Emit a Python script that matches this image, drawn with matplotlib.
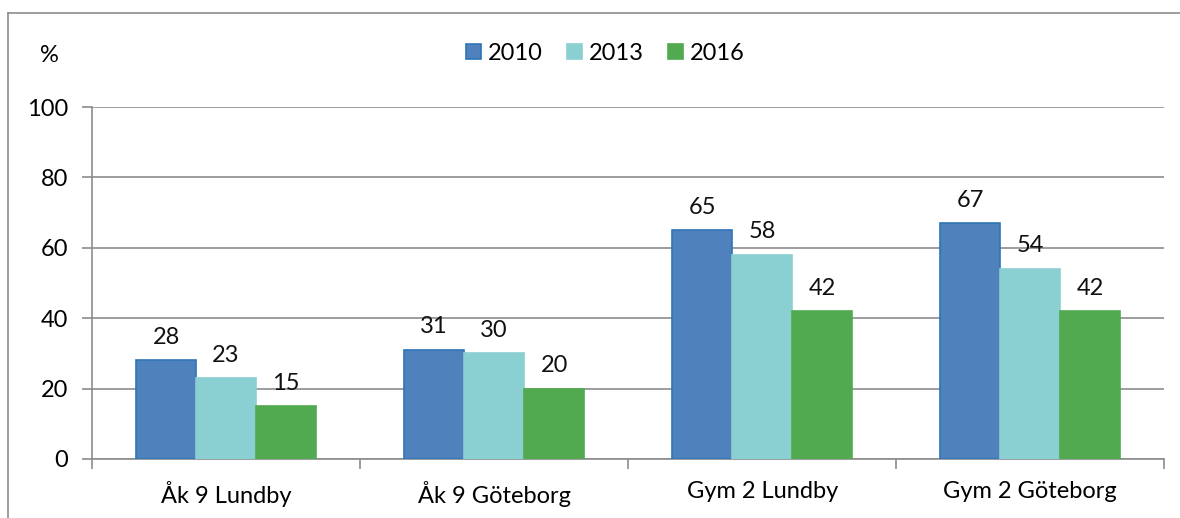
import matplotlib.pyplot as plt
import numpy as np
from matplotlib.lines import Line2D
from matplotlib.patches import Patch

plt.rcParams['font.family'] = ['Lato', 'DejaVu Sans']

categories = ["Åk 9 Lundby", "Åk 9 Göteborg", "Gym 2 Lundby", "Gym 2 Göteborg"]
years = ["2010", "2013", "2016"]
v2010 = [28, 31, 65, 67]
v2013 = [23, 30, 58, 54]
v2016 = [15, 20, 42, 42]

colors = ["#4F81BD", "#8ACFD1", "#52AA50"]
edges = ["#2E75B6", "#8ACFD1", "#52AA50"]
grid_c = "#8C8C8C"
fs = 17

fig = plt.figure(figsize=(11.8, 5.18), dpi=100)
ax = fig.add_axes([0.078, 0.1139, 0.9086, 0.6795])

# outer chart frame (top and left visible)
fig.add_artist(Line2D([0.0068, 0.0068], [0, 0.975], transform=fig.transFigure, color=grid_c, lw=1.2))
fig.add_artist(Line2D([0.0068, 1.0], [0.975, 0.975], transform=fig.transFigure, color=grid_c, lw=1.2))

x = np.arange(len(categories))
w = 0.224
for i, (vals, yr) in enumerate(zip([v2010, v2013, v2016], years)):
    pos = x + (i - 1) * w
    ax.bar(pos, vals, w, color=colors[i], edgecolor=edges[i], linewidth=1.2, zorder=3, label=yr)
    for p, v in zip(pos, vals):
        ax.annotate(str(v), (p, v), xytext=(0, 9), textcoords="offset points",
                    ha="center", va="bottom", fontsize=fs, color="#111111")

ax.set_xlim(-0.5, len(categories) - 0.5)
ax.set_ylim(0, 100)
ax.set_yticks(range(0, 101, 20))
ax.yaxis.grid(True, color=grid_c, lw=1.2, zorder=0)
ax.tick_params(axis="y", length=7, color=grid_c, width=1.2, labelsize=fs, pad=10)
ax.set_xticks(x)
ax.set_xticklabels(categories, fontsize=fs)
ax.tick_params(axis="x", length=0, pad=16)
ax.set_xticks(np.arange(-0.5, len(categories)), minor=True)
ax.tick_params(axis="x", which="minor", length=7, color=grid_c, width=1.2)
for s in ["top", "right"]:
    ax.spines[s].set_visible(False)
for s in ["left", "bottom"]:
    ax.spines[s].set_color(grid_c)
    ax.spines[s].set_linewidth(1.2)

fig.text(0.042, 0.893, "%", fontsize=fs, ha="center", va="center")

handles = [Patch(facecolor=colors[i], edgecolor=edges[i], linewidth=1.2) for i in range(3)]
fig.legend(handles, years, loc="center", bbox_to_anchor=(0.513, 0.897), ncol=3, frameon=False,
           fontsize=fs, handlelength=0.65, handleheight=0.65, handletextpad=0.3, columnspacing=1.0)

fig.savefig("out.png", dpi=100)
